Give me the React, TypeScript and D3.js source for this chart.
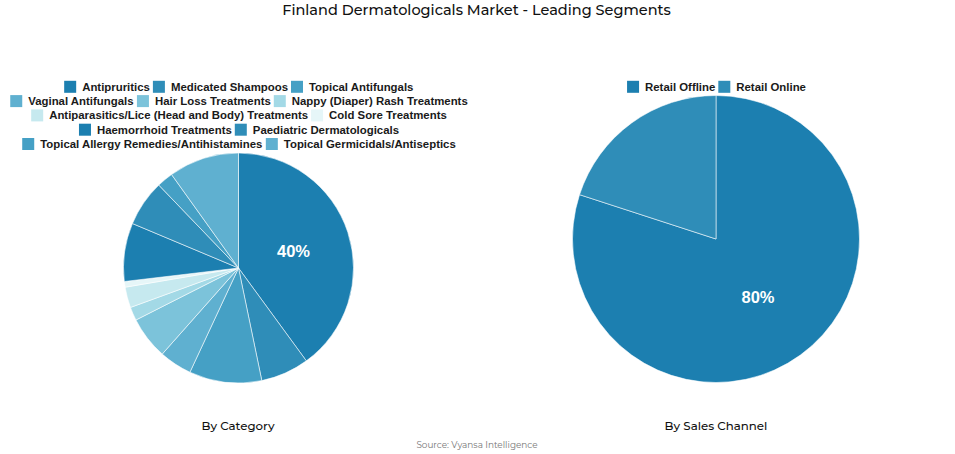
import React from "react";
import * as d3 from "d3";

const titleText = "Finland Dermatologicals Market - Leading Segments";
const sourceText = "Source: Vyansa Intelligence";
const categoryNames = ["Antipruritics","Medicated Shampoos","Topical Antifungals","Vaginal Antifungals","Hair Loss Treatments","Nappy (Diaper) Rash Treatments","Antiparasitics/Lice (Head and Body) Treatments","Cold Sore Treatments","Haemorrhoid Treatments","Paediatric Dermatologicals","Topical Allergy Remedies/Antihistamines","Topical Germicidals/Antiseptics"];
const categoryValues = [40,6.8,10.2,4.6,6,1.9,2.9,0.8,8.2,6.5,2.3,9.9];
const categoryColors = ["#1c7fb0","#2f8db8","#45a0c5","#5fb0d0","#7cc3da","#a3d9e6","#c6e9ef","#e6f6f8","#1c7fb0","#2f8db8","#45a0c5","#5fb0d0"];
const categoryLegendRows = [3,3,2,2,2];
const channelNames = ["Retail Offline","Retail Online"];
const channelValues = [80,20];
const channelColors = ["#1c7fb0","#2f8db8"];

const FF = "'Liberation Sans', Arial, sans-serif";
const TF = "Montserrat, 'Open Sans', sans-serif";
const LEGEND_SIZE = 11.4;
const ROW_STEP = 14.3;

function textW(s: string) {
  const c = document.createElement("canvas").getContext("2d")!;
  c.font = `bold ${LEGEND_SIZE}px ${FF}`;
  return c.measureText(s).width;
}

function Legend({ names, colors, rows, cx, y0 }: { names: string[]; colors: string[]; rows: number[]; cx: number; y0: number }) {
  const out: React.ReactNode[] = [];
  let idx = 0;
  rows.forEach((n, r) => {
    const items = names.slice(idx, idx + n).map((nm, i) => ({ nm, col: colors[idx + i] }));
    idx += n;
    const widths = items.map((d) => 18 + textW(d.nm));
    const total = d3.sum(widths) + 3 * (items.length - 1);
    let x = cx - total / 2 + 0.5;
    items.forEach((d, i) => {
      out.push(
        <g key={`${r}-${i}`}>
          <rect x={x} y={y0 + r * ROW_STEP - 6} width={12} height={12} fill={d.col} />
          <text x={x + 18} y={y0 + r * ROW_STEP + 4} fontFamily={FF} fontWeight={700} fontSize={LEGEND_SIZE} fill="#1a1a1a">{d.nm}</text>
        </g>
      );
      x += widths[i] + 3;
    });
  });
  return <g>{out}</g>;
}

function Pie({ values, colors, cx, cy, r, label, labelPos }: { values: number[]; colors: string[]; cx: number; cy: number; r: number; label: string; labelPos: [number, number] }) {
  const arcs = d3.pie<number>().sort(null)(values);
  const arc = d3.arc<d3.PieArcDatum<number>>().innerRadius(0).outerRadius(r);
  return (
    <g transform={`translate(${cx},${cy})`}>
      {arcs.map((a, i) => (
        <path key={i} d={arc(a) ?? ""} fill={colors[i]} stroke="#fff" strokeWidth={0.8} strokeOpacity={0.7} />
      ))}
      <text x={labelPos[0]} y={labelPos[1]} textAnchor="middle" dominantBaseline="central" fontFamily={FF} fontWeight={700} fontSize={16.5} fill="#fff">{label}</text>
    </g>
  );
}

export default function App() {
  return (
    <svg width={955} height={454} style={{ position: "absolute", left: 0, top: 0, background: "#fff" }}>
      <text x={476.5} y={14.5} textAnchor="middle" fontFamily={TF} fontWeight={500} fontSize={14.5} fill="#111">{titleText}</text>
      <Legend names={categoryNames} colors={categoryColors} rows={categoryLegendRows} cx={238.5} y0={86.8} />
      <Legend names={channelNames} colors={channelColors} rows={[2]} cx={716} y0={86.8} />
      <Pie values={categoryValues} colors={categoryColors} cx={238.5} cy={268} r={115} label="40%" labelPos={[55, -17.5]} />
      <Pie values={channelValues} colors={channelColors} cx={716} cy={239} r={143.5} label="80%" labelPos={[42, 58]} />
      <text x={238} y={430} textAnchor="middle" fontFamily={TF} fontWeight={500} fontSize={11.8} fill="#111">By Category</text>
      <text x={716} y={430} textAnchor="middle" fontFamily={TF} fontWeight={500} fontSize={11.8} fill="#111">By Sales Channel</text>
      <text x={477} y={448} textAnchor="middle" fontFamily={TF} fontSize={8.9} fill="#777">{sourceText}</text>
    </svg>
  );
}
